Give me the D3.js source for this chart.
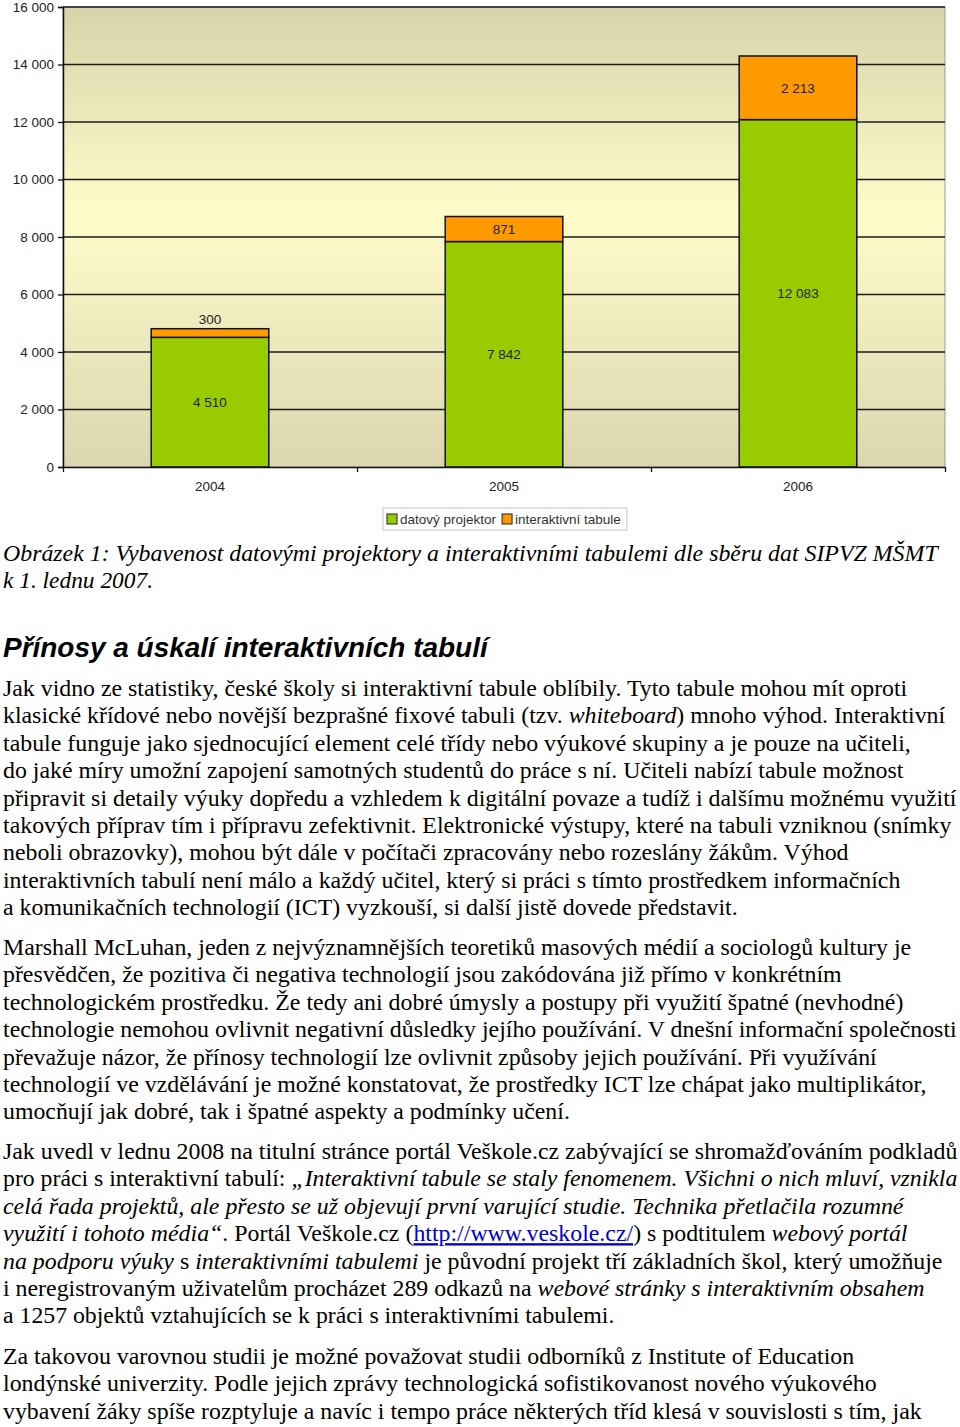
<!DOCTYPE html>
<html>
<head>
<meta charset="utf-8">
<script src="https://cdn.jsdelivr.net/npm/d3@7"></script>
<style>
  body { margin: 0; background: #fff; }
  svg { display: block; }
  text { white-space: pre; }
</style>
</head>
<body>
<div id="page"></div>
<script>
// chart data
const years = ["2004", "2005", "2006"];
const projektor = [4510, 7842, 12083];
const tabule = [300, 871, 2213];
const seriesNames = ["datový projektor", "interaktivní tabule"];
const seriesColors = ["#99cc00", "#ff9900"];
const yTicks = [0, 2000, 4000, 6000, 8000, 10000, 12000, 14000, 16000];

// text of the page: [line, right edge]; *..* = italic, [..] = link
const caption = [
  ["*Obrázek 1: Vybavenost datovými projektory a interaktivními tabulemi dle sběru dat SIPVZ MŠMT*", 938],
  ["*k 1. lednu 2007.*", 153]
];
const heading = "Přínosy a úskalí interaktivních tabulí";
const paragraphs = [
  [
    ["Jak vidno ze statistiky, české školy si interaktivní tabule oblíbily. Tyto tabule mohou mít oproti", 908],
    ["klasické křídové nebo novější bezprašné fixové tabuli (tzv. *whiteboard*) mnoho výhod. Interaktivní", 946],
    ["tabule funguje jako sjednocující element celé třídy nebo výukové skupiny a je pouze na učiteli,", 911],
    ["do jaké míry umožní zapojení samotných studentů do práce s ní. Učiteli nabízí tabule možnost", 904],
    ["připravit si detaily výuky dopředu a vzhledem k digitální povaze a tudíž i dalšímu možnému využití", 957],
    ["takových příprav tím i přípravu zefektivnit. Elektronické výstupy, které na tabuli vzniknou (snímky", 952],
    ["neboli obrazovky), mohou být dále v počítači zpracovány nebo rozeslány žákům. Výhod", 849],
    ["interaktivních tabulí není málo a každý učitel, který si práci s tímto prostředkem informačních", 901],
    ["a komunikačních technologií (ICT) vyzkouší, si další jistě dovede představit.", 738]
  ],
  [
    ["Marshall McLuhan, jeden z nejvýznamnějších teoretiků masových médií a sociologů kultury je", 912],
    ["přesvědčen, že pozitiva či negativa technologií jsou zakódována již přímo v konkrétním", 842],
    ["technologickém prostředku. Že tedy ani dobré úmysly a postupy při využití špatné (nevhodné)", 904],
    ["technologie nemohou ovlivnit negativní důsledky jejího používání. V dnešní informační společnosti", 957],
    ["převažuje názor, že přínosy technologií lze ovlivnit způsoby jejich používání. Při využívání", 877],
    ["technologií ve vzdělávání je možné konstatovat, že prostředky ICT lze chápat jako multiplikátor,", 927],
    ["umocňují jak dobré, tak i špatné aspekty a podmínky učení.", 570]
  ],
  [
    ["Jak uvedl v lednu 2008 na titulní stránce portál Veškole.cz zabývající se shromažďováním podkladů", 958],
    ["pro práci s interaktivní tabulí: *„Interaktivní tabule se staly fenomenem. Všichni o nich mluví, vznikla*", 958],
    ["*celá řada projektů, ale přesto se už objevují první varující studie. Technika přetlačila rozumné*", 904],
    ["*využití i tohoto média“*. Portál Veškole.cz ([http://www.veskole.cz/]) s podtitulem *webový portál*", 908],
    ["*na podporu výuky* s *interaktivními tabulemi* je původní projekt tří základních škol, který umožňuje", 943],
    ["i neregistrovaným uživatelům procházet 289 odkazů na *webové stránky s interaktivním obsahem*", 925],
    ["a 1257 objektů vztahujících se k práci s interaktivními tabulemi.", 615]
  ],
  [
    ["Za takovou varovnou studii je možné považovat studii odborníků z Institute of Education", 855],
    ["londýnské univerzity. Podle jejich zprávy technologická sofistikovanost nového výukového", 877],
    ["vybavení žáky spíše rozptyluje a navíc i tempo práce některých tříd klesá v souvislosti s tím, jak", 922]
  ]
];

const W = 960, H = 1427;
const plot = {left: 63, right: 945, top: 7, bottom: 467};

const svg = d3.select("#page").append("svg")
    .attr("width", W).attr("height", H);

const cz = d3.formatLocale({decimal: ",", thousands: " ", grouping: [3], currency: ["", " Kč"]});
const fmt = cz.format(",d");

let x = d3.scaleBand()
    .domain(years)
    .range([plot.left, plot.right])
    .paddingInner(0.6)
    .paddingOuter(0.3);

let y = d3.scaleLinear()
    .domain([0, 16000])
    .range([plot.bottom, plot.top]);

// plot background
let grad = svg.append("defs").append("linearGradient")
    .attr("id", "bg").attr("x1", 0).attr("y1", 0).attr("x2", 0).attr("y2", 1);
grad.append("stop").attr("offset", 0).attr("stop-color", "#d7d3ab");
grad.append("stop").attr("offset", 0.45).attr("stop-color", "#fffccb");
grad.append("stop").attr("offset", 1).attr("stop-color", "#dad6b0");

svg.append("rect")
    .attr("x", plot.left).attr("y", plot.top)
    .attr("width", plot.right - plot.left).attr("height", plot.bottom - plot.top)
    .attr("fill", "url(#bg)")
    .attr("stroke", "#9a9a9a").attr("stroke-width", 1);

// gridlines
svg.append("g")
    .selectAll("line")
    .data(yTicks.filter(d => d > 0))
    .join("line")
    .attr("x1", plot.left).attr("x2", plot.right)
    .attr("y1", d => y(d)).attr("y2", d => y(d))
    .attr("stroke", "#1c1c1c").attr("stroke-width", 1.3);

// stacked bars
let rows = years.map((yr, i) => ({year: yr, p: projektor[i], t: tabule[i]}));
let stacked = d3.stack().keys(["p", "t"])(rows);

let layers = svg.append("g")
    .selectAll("g")
    .data(stacked)
    .join("g")
    .attr("fill", (d, i) => seriesColors[i]);

layers.selectAll("rect")
    .data(d => d)
    .join("rect")
    .attr("x", d => x(d.data.year))
    .attr("y", d => y(d[1]))
    .attr("width", x.bandwidth())
    .attr("height", d => y(d[0]) - y(d[1]))
    .attr("stroke", "#111")
    .attr("stroke-width", 1.5);

// value labels
const chartFont = "'Liberation Sans', Arial, sans-serif";
layers.selectAll("text")
    .data(d => d)
    .join("text")
    .attr("x", d => x(d.data.year) + x.bandwidth() / 2)
    .attr("y", d => {
        let h = y(d[0]) - y(d[1]);
        return h < 16 ? y(d[1]) - 9 : (y(d[0]) + y(d[1])) / 2;
    })
    .attr("dy", "0.35em")
    .attr("text-anchor", "middle")
    .attr("font-family", chartFont)
    .attr("font-size", 13.5)
    .attr("fill", "#222")
    .text(d => fmt(d[1] - d[0]));

// y axis
let yAxis = svg.append("g")
    .attr("transform", `translate(${plot.left},0)`)
    .call(d3.axisLeft(y).tickValues(yTicks).tickSize(5).tickPadding(4).tickFormat(fmt));
yAxis.select(".domain").attr("stroke", "#111").attr("stroke-width", 1.5);
yAxis.selectAll(".tick line").attr("stroke", "#111").attr("stroke-width", 1.3);
yAxis.selectAll(".tick text")
    .attr("font-family", chartFont).attr("font-size", 13.5).attr("fill", "#222");

// x axis: ticks between categories
let xb = d3.scaleLinear().domain([0, years.length]).range([plot.left, plot.right]);
let xAxis = svg.append("g")
    .attr("transform", `translate(0,${plot.bottom})`)
    .call(d3.axisBottom(xb).ticks(years.length).tickSize(5).tickSizeOuter(0).tickFormat(""));
xAxis.select(".domain").attr("stroke", "#111").attr("stroke-width", 1.5);
xAxis.selectAll(".tick line").attr("stroke", "#111").attr("stroke-width", 1.3);

svg.append("g")
    .selectAll("text")
    .data(years)
    .join("text")
    .attr("x", d => x(d) + x.bandwidth() / 2)
    .attr("y", 491)
    .attr("text-anchor", "middle")
    .attr("font-family", chartFont)
    .attr("font-size", 13.5)
    .attr("fill", "#222")
    .text(d => d);

// legend
let legend = svg.append("g");
let legendBox = legend.append("rect")
    .attr("x", 383).attr("y", 508).attr("height", 22)
    .attr("fill", "#fff").attr("stroke", "#c4c4c4");
let lx = 387;
seriesNames.forEach((name, i) => {
    legend.append("rect")
        .attr("x", lx).attr("y", 514).attr("width", 10).attr("height", 10)
        .attr("fill", seriesColors[i]).attr("stroke", "#222");
    let t = legend.append("text")
        .attr("x", lx + 13).attr("y", 523.5)
        .attr("font-family", chartFont).attr("font-size", 13.5).attr("fill", "#333")
        .text(name);
    lx += 13 + t.node().getComputedTextLength() + 6;
});
legendBox.attr("width", lx - 383);

// page text
function drawLine(line, baseline, opts) {
    let [src, right] = line;
    let t = svg.append("text")
        .attr("font-family", opts.family)
        .attr("font-size", opts.size)
        .attr("font-weight", opts.weight || null)
        .attr("fill", "#000");
    src.split(/(\*[^*]*\*|\[[^\]]*\])/).filter(s => s.length).forEach(s => {
        let sp = t.append("tspan");
        if (s[0] === "*") sp.attr("font-style", "italic").text(s.slice(1, -1));
        else if (s[0] === "[") sp.attr("fill", "#0000cc").attr("text-decoration", "underline").text(s.slice(1, -1));
        else sp.attr("font-style", opts.italic ? "italic" : null).text(s);
    });
    let w = t.node().getComputedTextLength();
    let k = (right - 3) / w;
    t.attr("transform", `translate(3,${baseline}) scale(${k},1)`);
}

const serif = "'Liberation Serif', 'Times New Roman', serif";
caption.forEach((l, i) => drawLine(l, 561 + i * 27.2, {family: serif, size: 23}));
drawLine([heading, 488], 657, {family: chartFont, size: 28, weight: "bold", italic: true});

const lh = 27.4;
const paraStart = [696, 955, 1159, 1364];
paragraphs.forEach((para, p) => {
    para.forEach((l, i) => drawLine(l, paraStart[p] + i * lh, {family: serif, size: 23.5}));
});
</script>
</body>
</html>
